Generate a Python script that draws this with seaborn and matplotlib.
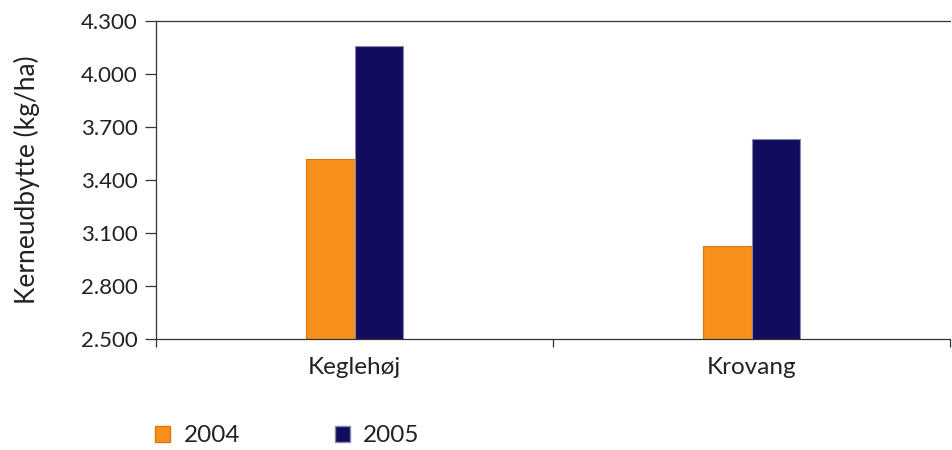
import matplotlib
matplotlib.use("Agg")
import matplotlib.pyplot as plt
from matplotlib.patches import Patch
from matplotlib.ticker import FuncFormatter, FixedLocator
import seaborn as sns
import pandas as pd

sites = ["Keglehøj", "Krovang"]
years = ["2004", "2005"]
yield_2004 = [3520, 3025]
yield_2005 = [4160, 3630]
colors = {"2004": "#F7901A", "2005": "#110C5E"}
edges = {"2004": "#D9780A", "2005": "#8A88A8"}

df = pd.DataFrame({
    "site": sites * 2,
    "year": ["2004"] * len(sites) + ["2005"] * len(sites),
    "yield": yield_2004 + yield_2005,
})

sns.set_style("white")
plt.rcParams["font.family"] = ["Lato", "DejaVu Sans"]

fig = plt.figure(figsize=(9.52, 4.5), dpi=100)
ax = fig.add_axes([156 / 952, 1 - 339 / 450, 794 / 952, 318 / 450])

sns.barplot(data=df, x="site", y="yield", hue="year", order=sites,
            hue_order=years, palette=colors, width=0.245, ax=ax,
            legend=False, saturation=1)
for patch, yr in zip(ax.patches, [y for y in years for _ in sites]):
    patch.set_edgecolor(edges[yr])
    patch.set_linewidth(0.8)

ax.set_ylim(2500, 4300)
ax.set_xlim(-0.5, 1.5)
ax.set_yticks(range(2500, 4301, 300))
ax.yaxis.set_major_formatter(FuncFormatter(lambda v, _: f"{v:,.0f}".replace(",", ".")))
ax.xaxis.set_minor_locator(FixedLocator([-0.5, 0.5, 1.5]))
ax.tick_params(axis="x", which="major", length=0, pad=13, labelsize=17.5, colors="#222222")
ax.tick_params(axis="x", which="minor", length=6, width=0.9, color="#333333", bottom=True)
ax.tick_params(axis="y", length=8, width=0.9, color="#333333", labelsize=16,
               labelcolor="#222222", pad=5, left=True)
ax.set_xlabel("")
ax.set_ylabel("Kerneudbytte (kg/ha)", fontsize=19, color="#222222")
ax.yaxis.set_label_coords(-116 / 794, 0.5)

for side in ["left", "bottom", "top"]:
    ax.spines[side].set_color("#333333")
    ax.spines[side].set_linewidth(0.9)
ax.spines["right"].set_visible(False)

handles = [Patch(facecolor=colors[y], edgecolor=edges[y], label=y) for y in years]
fig.legend(handles=handles, loc="center left", bbox_to_anchor=(155 / 952, 1 - 436 / 450),
           ncol=2, frameon=False, fontsize=17.5, handlelength=0.62, handleheight=0.62,
           handletextpad=0.55, columnspacing=3.9, borderpad=0, borderaxespad=0,
           labelcolor="#222222")

fig.savefig("out.png", dpi=100)
